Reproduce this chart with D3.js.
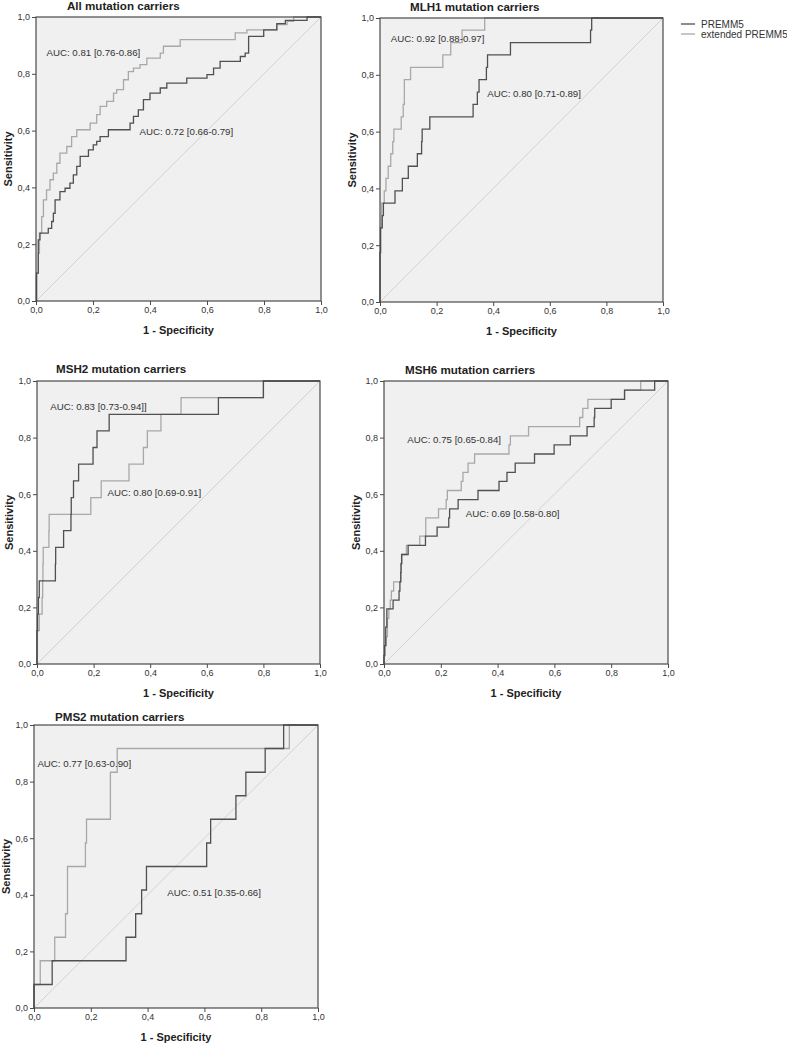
<!DOCTYPE html>
<html>
<head>
<meta charset="utf-8">
<script src="https://cdn.jsdelivr.net/npm/d3@7/dist/d3.min.js"></script>
<style>
  html, body { margin: 0; padding: 0; background: #fff; }
  svg { display: block; font-family: "Liberation Sans", Arial, sans-serif; }
</style>
</head>
<body>
<svg id="chart" width="787" height="1044"></svg>
<script>
// ---------- DATA ----------
const panelTitles = [
  "All mutation carriers",
  "MLH1 mutation carriers",
  "MSH2 mutation carriers",
  "MSH6 mutation carriers",
  "PMS2 mutation carriers"
];

const seriesNames = ["PREMM5", "extended PREMM5"];

// ROC step points [1 - specificity, sensitivity] (top of each vertical jump)
const premmAll = [[0,0],[0.002,0.098],[0.008,0.215],[0.014,0.239],[0.043,0.256],[0.055,0.280],[0.061,0.309],[0.067,0.356],[0.084,0.385],[0.102,0.397],[0.119,0.415],[0.131,0.444],[0.143,0.474],[0.155,0.509],[0.184,0.532],[0.201,0.550],[0.213,0.562],[0.225,0.579],[0.254,0.603],[0.330,0.626],[0.342,0.650],[0.359,0.673],[0.377,0.709],[0.400,0.732],[0.436,0.750],[0.459,0.767],[0.529,0.785],[0.600,0.797],[0.623,0.820],[0.646,0.844],[0.717,0.861],[0.734,0.873],[0.746,0.932],[0.799,0.955],[0.845,0.977],[0.875,0.988],[0.951,1.0],[1,1]];
const extAll = [[0,0],[0.002,0.098],[0.008,0.168],[0.012,0.239],[0.020,0.297],[0.026,0.356],[0.037,0.391],[0.049,0.427],[0.061,0.450],[0.073,0.485],[0.084,0.521],[0.108,0.544],[0.125,0.579],[0.143,0.603],[0.190,0.626],[0.213,0.656],[0.225,0.685],[0.248,0.703],[0.272,0.732],[0.283,0.744],[0.307,0.779],[0.324,0.808],[0.342,0.820],[0.365,0.832],[0.389,0.855],[0.436,0.873],[0.447,0.897],[0.506,0.920],[0.699,0.944],[0.740,0.955],[0.845,0.973],[0.881,0.985],[0.904,1.0],[1,1]];

const premmMLH1 = [[0,0],[0,0.174],[0.002,0.261],[0.008,0.304],[0.012,0.348],[0.053,0.391],[0.079,0.435],[0.100,0.478],[0.132,0.522],[0.147,0.565],[0.149,0.609],[0.176,0.652],[0.329,0.696],[0.344,0.739],[0.350,0.783],[0.376,0.826],[0.380,0.870],[0.461,0.913],[0.744,0.957],[0.748,1.0],[1,1]];
const extMLH1 = [[0,0],[0,0.174],[0.002,0.261],[0.006,0.348],[0.015,0.391],[0.021,0.435],[0.029,0.478],[0.038,0.522],[0.045,0.565],[0.049,0.609],[0.075,0.652],[0.082,0.696],[0.086,0.783],[0.108,0.826],[0.222,0.870],[0.250,0.913],[0.290,0.957],[0.370,1.0],[1,1]];

const premmMSH2 = [[0,0],[0,0.118],[0.002,0.176],[0.005,0.235],[0.008,0.294],[0.065,0.353],[0.066,0.412],[0.094,0.471],[0.120,0.529],[0.121,0.588],[0.129,0.647],[0.147,0.706],[0.198,0.765],[0.212,0.824],[0.255,0.882],[0.641,0.941],[0.800,1.0],[1,1]];
const extMSH2 = [[0,0],[0,0.118],[0.008,0.176],[0.018,0.235],[0.020,0.294],[0.021,0.353],[0.022,0.412],[0.042,0.471],[0.043,0.529],[0.190,0.588],[0.227,0.647],[0.325,0.706],[0.376,0.765],[0.390,0.824],[0.438,0.882],[0.509,0.941],[0.800,1.0],[1,1]];

const premmMSH6 = [[0,0],[0,0.030],[0.002,0.065],[0.006,0.130],[0.010,0.195],[0.032,0.226],[0.053,0.258],[0.056,0.290],[0.059,0.323],[0.060,0.355],[0.062,0.387],[0.085,0.419],[0.146,0.452],[0.187,0.484],[0.228,0.516],[0.231,0.548],[0.261,0.581],[0.331,0.613],[0.405,0.645],[0.433,0.677],[0.462,0.710],[0.530,0.742],[0.599,0.774],[0.656,0.806],[0.715,0.839],[0.740,0.871],[0.742,0.903],[0.800,0.935],[0.847,0.968],[0.953,1.0],[1,1]];
const extMSH6 = [[0,0],[0,0.030],[0.004,0.065],[0.008,0.097],[0.012,0.161],[0.017,0.194],[0.022,0.226],[0.026,0.258],[0.034,0.290],[0.059,0.323],[0.060,0.355],[0.063,0.387],[0.079,0.419],[0.126,0.452],[0.147,0.516],[0.192,0.548],[0.219,0.581],[0.223,0.613],[0.272,0.645],[0.278,0.677],[0.296,0.710],[0.319,0.742],[0.440,0.774],[0.445,0.806],[0.509,0.839],[0.689,0.871],[0.700,0.903],[0.718,0.935],[0.847,0.968],[0.904,1.0],[1,1]];

const premmPMS2 = [[0,0],[0,0.083],[0.064,0.167],[0.324,0.250],[0.358,0.333],[0.379,0.417],[0.396,0.500],[0.608,0.583],[0.622,0.667],[0.711,0.750],[0.746,0.833],[0.814,0.917],[0.879,1.0],[1,1]];
const extPMS2 = [[0,0],[0,0.083],[0.022,0.167],[0.073,0.250],[0.111,0.333],[0.118,0.500],[0.181,0.583],[0.185,0.667],[0.269,0.833],[0.293,0.917],[0.899,1.0],[1,1]];

const premmAUC = ["AUC: 0.72 [0.66-0.79]", "AUC: 0.80 [0.71-0.89]", "AUC: 0.83 [0.73-0.94]]", "AUC: 0.69 [0.58-0.80]", "AUC: 0.51 [0.35-0.66]"];
const extAUC   = ["AUC: 0.81 [0.76-0.86]", "AUC: 0.92 [0.88-0.97]", "AUC: 0.80 [0.69-0.91]", "AUC: 0.75 [0.65-0.84]", "AUC: 0.77 [0.63-0.90]"];
// label anchor positions in data units [x, y]
const premmAUCPos = [[0.363,0.597],[0.379,0.733],[0.047,0.911],[0.288,0.533],[0.469,0.408]];
const extAUCPos   = [[0.037,0.873],[0.038,0.929],[0.249,0.606],[0.082,0.792],[0.012,0.865]];

const tickValues = [0, 0.2, 0.4, 0.6, 0.8, 1.0];
const tickLabels = ["0,0", "0,2", "0,4", "0,6", "0,8", "1,0"];
const xAxisTitle = "1 - Specificity";
const yAxisTitle = "Sensitivity";

// ---------- LAYOUT ----------
const layout = [
  { left: 36,  top: 17,  w: 285, h: 284, titleX: 67,  titleY: 10 },
  { left: 380, top: 18,  w: 283, h: 284, titleX: 410, titleY: 11 },
  { left: 37,  top: 381, w: 283, h: 283, titleX: 56,  titleY: 373 },
  { left: 384, top: 381, w: 284, h: 283, titleX: 405, titleY: 374 },
  { left: 34,  top: 725, w: 284, h: 283, titleX: 55,  titleY: 721 }
];

const premmSeries = [premmAll, premmMLH1, premmMSH2, premmMSH6, premmPMS2];
const extSeries = [extAll, extMLH1, extMSH2, extMSH6, extPMS2];

const colPremm = "#505050";
const colExt = "#a8a8a8";
const colDiag = "#d2d2d2";
const colFrame = "#4a4a4a";
const colBg = "#f0f0f0";

const svg = d3.select("#chart");

layout.forEach((L, i) => {
  const x = d3.scaleLinear().domain([0, 1]).range([L.left, L.left + L.w]);
  const y = d3.scaleLinear().domain([0, 1]).range([L.top + L.h, L.top]);
  const g = svg.append("g");

  g.append("rect")
    .attr("x", x(0)).attr("y", y(1))
    .attr("width", x(1) - x(0)).attr("height", y(0) - y(1))
    .attr("fill", colBg);

  // diagonal reference
  g.append("line")
    .attr("x1", x(0)).attr("y1", y(0)).attr("x2", x(1)).attr("y2", y(1))
    .attr("stroke", colDiag).attr("stroke-width", 1);

  const line = d3.line().x(d => x(d[0])).y(d => y(d[1])).curve(d3.curveStepAfter);

  g.append("path").datum(extSeries[i])
    .attr("d", line).attr("fill", "none")
    .attr("stroke", colExt).attr("stroke-width", 1.3);
  g.append("path").datum(premmSeries[i])
    .attr("d", line).attr("fill", "none")
    .attr("stroke", colPremm).attr("stroke-width", 1.3);

  // frame
  g.append("rect")
    .attr("x", x(0)).attr("y", y(1))
    .attr("width", x(1) - x(0)).attr("height", y(0) - y(1))
    .attr("fill", "none").attr("stroke", colFrame).attr("stroke-width", 1.2);

  // axes
  const xAxis = d3.axisBottom(x).tickValues(tickValues)
    .tickFormat((d, k) => tickLabels[k]).tickSize(4).tickPadding(2);
  const yAxis = d3.axisLeft(y).tickValues(tickValues)
    .tickFormat((d, k) => tickLabels[k]).tickSize(4).tickPadding(2);

  const gx = g.append("g").attr("transform", `translate(0,${y(0)})`).call(xAxis);
  const gy = g.append("g").attr("transform", `translate(${x(0)},0)`).call(yAxis);
  [gx, gy].forEach(a => {
    a.select(".domain").remove();
    a.selectAll(".tick line").attr("stroke", colFrame);
    a.selectAll(".tick text").attr("fill", "#333").style("font-size", "9px")
      .style("font-family", '"Liberation Sans", Arial, sans-serif');
  });

  // axis titles
  g.append("text")
    .attr("x", (x(0) + x(1)) / 2).attr("y", y(0) + 33)
    .attr("text-anchor", "middle")
    .style("font-size", "11px").style("font-weight", "bold").attr("fill", "#222")
    .text(xAxisTitle);
  g.append("text")
    .attr("transform", `translate(${x(0) - 24},${(y(0) + y(1)) / 2}) rotate(-90)`)
    .attr("text-anchor", "middle")
    .style("font-size", "11px").style("font-weight", "bold").attr("fill", "#222")
    .text(yAxisTitle);

  // panel title
  g.append("text")
    .attr("x", L.titleX).attr("y", L.titleY)
    .style("font-size", "11.6px").style("font-weight", "bold").attr("fill", "#222")
    .text(panelTitles[i]);

  // AUC labels
  g.append("text")
    .attr("x", x(extAUCPos[i][0])).attr("y", y(extAUCPos[i][1]))
    .attr("dy", "0.35em")
    .style("font-size", "9.7px").attr("fill", "#333")
    .text(extAUC[i]);
  g.append("text")
    .attr("x", x(premmAUCPos[i][0])).attr("y", y(premmAUCPos[i][1]))
    .attr("dy", "0.35em")
    .style("font-size", "9.7px").attr("fill", "#333")
    .text(premmAUC[i]);
});

// legend
const legend = svg.append("g");
const legendColors = [colPremm, colExt];
seriesNames.forEach((name, k) => {
  const ly = 24 + k * 10;
  legend.append("line")
    .attr("x1", 681).attr("x2", 695).attr("y1", ly).attr("y2", ly)
    .attr("stroke", legendColors[k]).attr("stroke-width", 1.3);
  legend.append("text")
    .attr("x", 701).attr("y", ly).attr("dy", "0.35em")
    .style("font-size", "10px").attr("fill", "#333")
    .text(name);
});
</script>
</body>
</html>
